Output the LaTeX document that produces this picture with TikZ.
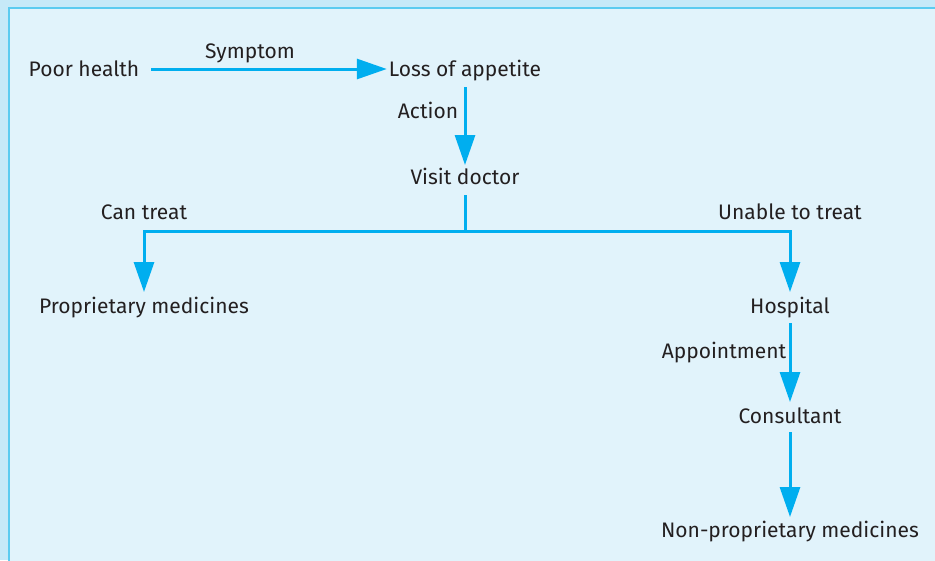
\documentclass[tikz,border=0pt]{standalone}
\usepackage{fontspec}
\setmainfont{Fira Sans}[Scale=1]
\usetikzlibrary{arrows.meta}
\definecolor{outerbg}{HTML}{C6E9F8}
\definecolor{innerbg}{HTML}{E1F3FB}
\definecolor{frame}{HTML}{5BCBF0}
\definecolor{arrowc}{HTML}{00AEEF}
\definecolor{txt}{HTML}{231F20}
\tikzset{
  lbl/.style={inner sep=0pt, anchor=base, text=txt, font=\fontsize{21}{24}\selectfont},
  arr/.style={draw=arrowc, line width=3pt, -{Triangle[length=30pt,width=20pt]}},
  ln/.style={draw=arrowc, line width=3pt},
}
\begin{document}
\begin{tikzpicture}[x=1pt,y=-1pt]
\useasboundingbox (0,0) rectangle (935,560);
\fill[outerbg] (0,0) rectangle (935,560);
\filldraw[fill=innerbg, draw=frame, line width=1.5pt] (9,8) rectangle (950,575);
\node[lbl] (poor) at (84,76) {Poor health};
\node[lbl] (symp) at (250,58) {Symptom};
\node[lbl] (loss) at (465,76) {Loss of appetite};
\node[lbl] (act) at (428,118) {Action};
\node[lbl] (visit) at (465,184) {Visit doctor};
\node[lbl] (can) at (144,219) {Can treat};
\node[lbl] (unable) at (790,219) {Unable to treat};
\node[lbl] (prop) at (144,313) {Proprietary medicines};
\node[lbl] (hosp) at (790,313) {Hospital};
\node[lbl] (appt) at (724,358) {Appointment};
\node[lbl] (cons) at (790,423) {Consultant};
\node[lbl] (nonp) at (790,537) {Non-proprietary medicines};
\coordinate (j) at (465,231);
\draw[arr] ([xshift=12pt,yshift=7pt]poor.base east) -- ([xshift=-2pt,yshift=7pt]loss.base west);
\draw[arr] ([yshift=-11pt]loss.base) -- ([yshift=19pt]visit.base);
\draw[ln] ([yshift=-11pt]visit.base) -- (j);
\draw[arr] (j) -| ([yshift=21pt]prop.base);
\draw[arr] (j) -| ([yshift=21pt]hosp.base);
\draw[arr] ([yshift=-10pt]hosp.base) -- ([yshift=21pt]cons.base);
\draw[arr] ([yshift=-9pt]cons.base) -- ([yshift=20pt]nonp.base);
\end{tikzpicture}
\end{document}
